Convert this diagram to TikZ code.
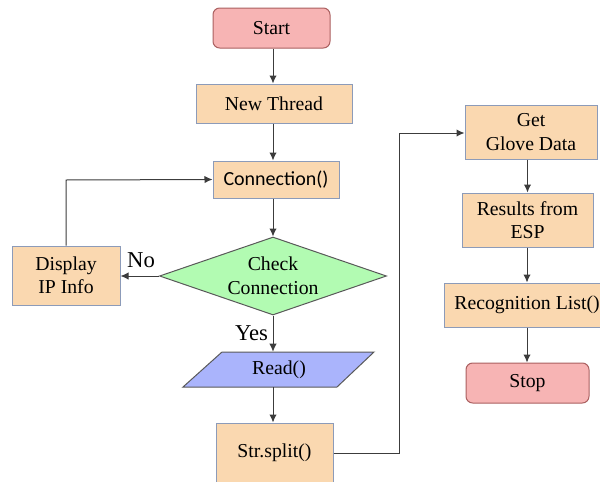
\documentclass[tikz,border=0pt]{standalone}
\usepackage{fontspec}
\setmainfont{Liberation Serif}
\newfontfamily\calib{Carlito}
\usetikzlibrary{shapes.geometric,arrows.meta}
\definecolor{peach}{RGB}{250,216,176}
\definecolor{peachline}{RGB}{140,155,185}
\definecolor{pinkfill}{RGB}{247,180,180}
\definecolor{pinkline}{RGB}{170,95,95}
\definecolor{greenfill}{RGB}{178,251,178}
\definecolor{blufill}{RGB}{170,180,252}
\definecolor{lin}{RGB}{60,60,60}
\tikzset{
  box/.style={draw=peachline, fill=peach, line width=0.75pt, inner sep=0pt, align=center, font=\fontsize{14.8}{17.5}\selectfont},
  term/.style={draw=pinkline, fill=pinkfill, rounded corners=5pt, line width=0.75pt, inner sep=0pt, align=center, font=\fontsize{14.8}{17.5}\selectfont},
  conn/.style={draw=lin, line width=0.75pt, -{Latex[length=6pt,width=5.5pt]}},
  plain/.style={draw=lin, line width=0.75pt},
  lbl/.style={font=\fontsize{17}{20}\selectfont, inner sep=0pt}
}
\begin{document}
\begin{tikzpicture}[x=0.75pt,y=-0.75pt]
\useasboundingbox (0,0) rectangle (600,482);
\clip (0,0) rectangle (600,482);
\node[term, minimum width=87.75pt, minimum height=30pt] (start) at (271.5,28) {Start};
\node[box, minimum width=117pt, minimum height=29.25pt] (nt) at (274,103.5) {New Thread};
\node[box, minimum width=94.5pt, minimum height=27.75pt, font=\calib\fontsize{15}{18}\selectfont] (conn) at (276,179.5) {Connection()};
\node[diamond, draw=gray!70!black, fill=greenfill, line width=0.75pt, inner sep=0pt, minimum width=170.25pt, minimum height=58.5pt] (chk) at (273,276) {};
\node[align=center, font=\fontsize{14.8}{18}\selectfont] (chkt) at (chk.center) {Check\\Connection};
\node[box, minimum width=81pt, minimum height=44.25pt] (disp) at (66,275.5) {Display\\IP Info};
\coordinate (p1) at (222,352);
\coordinate (p2) at (374,352);
\coordinate (p3) at (337,387);
\coordinate (p4) at (183,387);
\fill[blufill] (p1) -- (p2) -- (p3) -- (p4) -- cycle;
\draw[draw=gray!70!black, line width=0.75pt] (p1) -- (p2) -- (p3) -- (p4) -- cycle;
\node[inner sep=0pt, minimum height=26.25pt, font=\fontsize{14.8}{17.5}\selectfont] (read) at (279,369.5) {Read()};
\node[box, minimum width=87.75pt, minimum height=45pt] (str) at (274.5,453) {Str.split()};
\node[box, minimum width=99pt, minimum height=40.5pt] (glove) at (531,132) {Get\\Glove Data};
\node[box, minimum width=98.25pt, minimum height=40.5pt] (res) at (527.5,220) {Results from\\ESP};
\node[box, minimum width=124.5pt, minimum height=33pt] (rec) at (527,305) {Recognition List()};
\node[term, minimum width=92.25pt, minimum height=30pt] (stop) at (527.5,383) {Stop};
\coordinate (r1) at (399,453);
\coordinate (r2) at (399,133);
\coordinate (d1) at (66,180);
% connectors
\draw[conn] (chk.north |- start.south) -- (chk.north |- nt.north);
\draw[conn] (chk.north |- nt.south) -- (chk.north |- conn.north);
\draw[conn] (chk.north |- conn.south) -- (chk.north);
\draw[conn] (chk.west) -- (disp.east |- chk.west);
\draw[conn] (disp.north) -- (d1) -- (conn.west);
\draw[conn] (chk.south) -- (chk.south |- read.north);
\draw[conn] (chk.south |- read.south) -- (chk.south |- str.north);
\draw[conn] (str.east) -- (r1) -- (r2) -- (r2 -| glove.west);
\draw[conn] (res.north |- glove.south) -- (res.north);
\draw[conn] (rec.north |- res.south) -- (rec.north);
\draw[conn] (rec.south) -- (rec.south |- stop.north);
\node[lbl] (no) at (141,260) {No};
\node[lbl] (yes) at (251.5,333) {Yes};
\end{tikzpicture}
\end{document}
